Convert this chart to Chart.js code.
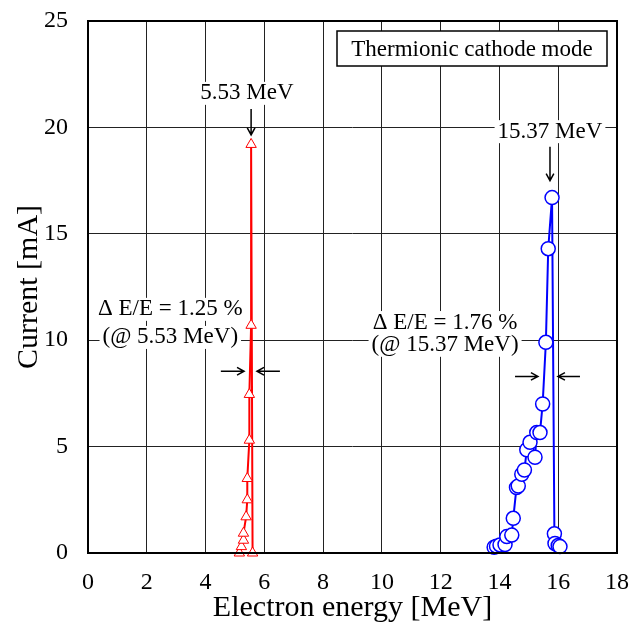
<!DOCTYPE html>
<html>
<head>
<meta charset="utf-8">
<script src="https://cdn.jsdelivr.net/npm/chart.js@4"></script>
<style>
  html, body { margin: 0; padding: 0; background: #fff; }
  #wrap { width: 631px; height: 628px; }
</style>
</head>
<body>
<div id="wrap"><canvas id="energyChart" width="631" height="628"></canvas></div>
<script>
// thermionic cathode mode, 5.53 MeV run (red triangles)
const lowEnergy = [5.15, 5.22, 5.29, 5.29, 5.38, 5.42, 5.42, 5.49, 5.49, 5.55, 5.55, 5.6];
const lowCurrent = [0.0, 0.3, 0.6, 0.93, 1.7, 2.5, 3.5, 5.3, 7.45, 10.7, 19.2, 0.0];

// 15.37 MeV run (blue circles)
const highEnergy = [13.82, 13.9, 14.02, 14.19, 14.25, 14.42, 14.47, 14.58, 14.64, 14.76, 14.85, 14.93,
  15.04, 15.21, 15.27, 15.38, 15.47, 15.58, 15.66, 15.79, 15.87, 15.89, 16.0, 16.06];
const highCurrent = [0.27, 0.32, 0.38, 0.4, 0.77, 0.84, 1.63, 3.08, 3.15, 3.7, 3.9, 4.85,
  5.2, 4.5, 5.66, 5.66, 7.0, 9.9, 14.3, 16.7, 0.9, 0.45, 0.35, 0.3];

const xTicks = [0, 2, 4, 6, 8, 10, 12, 14, 16, 18];
const yTicks = [0, 5, 10, 15, 20, 25];

const serif = '"Liberation Serif", "DejaVu Serif", serif';

function pairs(xs, ys) {
  return xs.map((x, i) => ({ x: x, y: ys[i] }));
}

// keep the plot box where the layout padding puts it
function noEdgePadding(s) {
  s.paddingTop = 0;
  s.paddingBottom = 0;
  s.paddingLeft = 0;
  s.paddingRight = 0;
}

// text labels and arrows drawn on top of the plot
const notes = {
  id: 'notes',
  afterDraw(chart) {
    const ctx = chart.ctx;
    const sx = chart.scales.x, sy = chart.scales.y;
    const px = v => sx.getPixelForValue(v);
    const py = v => sy.getPixelForValue(v);

    function label(text, x, y, size) {
      ctx.font = size + 'px ' + serif;
      ctx.textAlign = 'center';
      ctx.textBaseline = 'middle';
      const w = ctx.measureText(text).width;
      ctx.fillStyle = '#fff';
      ctx.fillRect(x - w / 2 - 3, y - size / 2, w + 6, size);
      ctx.fillStyle = '#000';
      ctx.fillText(text, x, y);
    }

    function arrow(x1, y1, x2, y2) {
      const a = Math.atan2(y2 - y1, x2 - x1);
      const h = 8;
      ctx.strokeStyle = '#000';
      ctx.lineWidth = 1.5;
      ctx.beginPath();
      ctx.moveTo(x1, y1);
      ctx.lineTo(x2, y2);
      ctx.moveTo(x2 - h * Math.cos(a - 0.5), y2 - h * Math.sin(a - 0.5));
      ctx.lineTo(x2, y2);
      ctx.lineTo(x2 - h * Math.cos(a + 0.5), y2 - h * Math.sin(a + 0.5));
      ctx.stroke();
    }

    ctx.save();
    // peak labels
    label('5.53 MeV', px(5.41), py(21.6), 23);
    arrow(px(5.55), py(20.87), px(5.55), py(19.65));
    label('15.37 MeV', px(15.72), py(19.8), 23);
    arrow(px(15.72), py(19.09), px(15.72), py(17.5));

    // energy spread notes
    label('\u0394 E/E = 1.25 %', px(2.8), py(11.45), 23);
    label('(@ 5.53 MeV)', px(2.8), py(10.13), 23);
    arrow(px(4.52), py(8.54), px(5.31), py(8.54));
    arrow(px(6.53), py(8.54), px(5.75), py(8.54));

    label('\u0394 E/E = 1.76 %', px(12.15), py(10.83), 23);
    label('(@ 15.37 MeV)', px(12.15), py(9.76), 23);
    arrow(px(14.53), py(8.3), px(15.31), py(8.3));
    arrow(px(16.74), py(8.3), px(15.99), py(8.3));

    // mode box
    const bx = 337, by = 31, bw = 270, bh = 35;
    ctx.fillStyle = '#fff';
    ctx.fillRect(bx, by, bw, bh);
    ctx.strokeStyle = '#000';
    ctx.lineWidth = 1.5;
    ctx.strokeRect(bx, by, bw, bh);
    ctx.fillStyle = '#000';
    ctx.font = '23px ' + serif;
    ctx.textAlign = 'center';
    ctx.textBaseline = 'middle';
    ctx.fillText('Thermionic cathode mode', bx + bw / 2, by + bh / 2 + 1);

    // plot frame
    const a = chart.chartArea;
    ctx.lineWidth = 2;
    ctx.strokeRect(a.left, a.top, a.right - a.left, a.bottom - a.top);
    ctx.restore();
  }
};

new Chart(document.getElementById('energyChart').getContext('2d'), {
  type: 'line',
  data: {
    datasets: [{
      label: '5.53 MeV',
      data: pairs(lowEnergy, lowCurrent),
      borderColor: '#ff0000',
      borderWidth: 2,
      pointStyle: 'triangle',
      pointRadius: 6,
      pointBorderWidth: 1,
      pointBackgroundColor: '#fff',
      pointBorderColor: '#ff0000',
      tension: 0
    }, {
      label: '15.37 MeV',
      data: pairs(highEnergy, highCurrent),
      borderColor: '#0000ff',
      borderWidth: 2,
      pointStyle: 'circle',
      pointRadius: 7,
      pointBorderWidth: 1.5,
      pointBackgroundColor: '#fff',
      pointBorderColor: '#0000ff',
      tension: 0
    }]
  },
  options: {
    responsive: false,
    animation: false,
    clip: false,
    layout: { padding: { left: 0, top: 21, right: 14, bottom: 0 } },
    plugins: {
      legend: { display: false },
      tooltip: { enabled: false }
    },
    scales: {
      x: {
        type: 'linear',
        min: 0,
        max: 18,
        afterBuildTicks: s => { s.ticks = xTicks.map(v => ({ value: v })); },
        afterFit: s => { s.height = 75; noEdgePadding(s); },
        grid: { color: '#222', lineWidth: 1, drawTicks: false },
        border: { display: false },
        ticks: { color: '#000', padding: 15, font: { family: serif, size: 24 } },
        title: {
          display: true,
          text: 'Electron energy [MeV]',
          color: '#000',
          padding: { top: 0, bottom: 2 },
          font: { family: serif, size: 30 }
        }
      },
      y: {
        type: 'linear',
        min: 0,
        max: 25,
        afterBuildTicks: s => { s.ticks = yTicks.map(v => ({ value: v })); },
        afterFit: s => { s.width = 88; noEdgePadding(s); },
        grid: { color: '#222', lineWidth: 1, drawTicks: false },
        border: { display: false },
        ticks: { color: '#000', padding: 20, font: { family: serif, size: 24 } },
        title: {
          display: true,
          text: 'Current [mA]',
          color: '#000',
          padding: { top: 11, bottom: 0 },
          font: { family: serif, size: 30 }
        }
      }
    }
  },
  plugins: [notes]
});
</script>
</body>
</html>
